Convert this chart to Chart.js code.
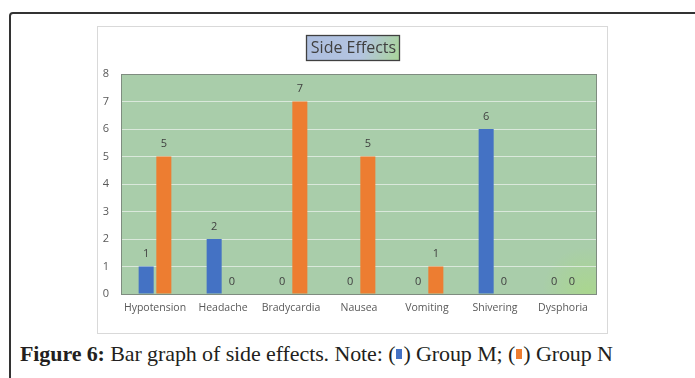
<!DOCTYPE html>
<html>
<head>
<meta charset="utf-8">
<script src="https://cdn.jsdelivr.net/npm/chart.js@4/dist/chart.umd.min.js"></script>
<style>
  html, body { margin:0; padding:0; width:695px; height:378px; overflow:hidden; background:#fff; }
  #frame { position:absolute; left:9px; top:12px; width:720px; height:400px; border:2px solid #333; border-top-left-radius:4px; box-sizing:border-box; }
  #box { position:absolute; left:97px; top:26px; width:511px; height:308px; border:1px solid #d9d9d9; box-sizing:border-box; background:#fff; }
  #wrap { position:absolute; left:97px; top:26px; width:511px; height:308px; }
  #caption { position:absolute; left:20px; top:341px; font-family:"Liberation Serif", serif; font-size:22px; color:#231f20; white-space:nowrap; letter-spacing:-0.1px; }
  #caption b { font-weight:bold; }
  .sq { display:inline-block; width:6px; height:10px; vertical-align:2px; margin:0 1px; }
</style>
</head>
<body>
<div id="frame"></div>
<div id="box"></div>
<div id="wrap"><canvas id="c" width="511" height="308"></canvas></div>
<div id="caption"><b>Figure 6:</b> Bar graph of side effects. Note: (<span class="sq" style="background:#4472c4"></span>) Group M; (<span class="sq" style="background:#ed7d31"></span>) Group N</div>
<script>
const chartTitle = "Side Effects";
const categories = ["Hypotension", "Headache", "Bradycardia", "Nausea", "Vomiting", "Shivering", "Dysphoria"];
const groupM = [1, 2, 0, 0, 0, 6, 0];
const groupN = [5, 0, 7, 5, 1, 0, 0];
const seriesNames = ["Group M", "Group N"];
const yTicks = [0, 1, 2, 3, 4, 5, 6, 7, 8];

const FONT = '"Open Sans", "Liberation Sans", sans-serif';

const bgPlugin = {
  id: 'bg',
  beforeDraw(chart) {
    const { ctx, chartArea: a } = chart;
    ctx.save();
    ctx.fillStyle = '#a9cdaa';
    ctx.fillRect(a.left, a.top, a.right - a.left, a.bottom - a.top);
    const g = ctx.createRadialGradient(a.right - 10, a.bottom - 2, 0, a.right - 10, a.bottom - 2, 45);
    g.addColorStop(0, 'rgba(170,215,140,0.9)');
    g.addColorStop(1, 'rgba(170,215,140,0)');
    ctx.fillStyle = g;
    ctx.fillRect(a.left, a.top, a.right - a.left, a.bottom - a.top);
    ctx.restore();
  },
  afterDatasetsDraw(chart) {
    const { ctx, chartArea: a } = chart;
    ctx.save();
    ctx.strokeStyle = '#7f8c80';
    ctx.lineWidth = 1;
    ctx.strokeRect(Math.round(a.left) + 0.5, Math.round(a.top) + 0.5, Math.round(a.right - a.left) - 1, Math.round(a.bottom - a.top));
    ctx.font = '11px ' + FONT;
    ctx.fillStyle = '#404040';
    ctx.textAlign = 'center';
    ctx.textBaseline = 'bottom';
    chart.data.datasets.forEach((ds, i) => {
      chart.getDatasetMeta(i).data.forEach((bar, j) => {
        ctx.fillText(String(ds.data[j]), bar.x, bar.y - 7);
      });
    });
    const tx = 209, ty = 9, tw = 93, th = 25;
    const tg = ctx.createLinearGradient(tx, ty, tx + tw, ty + th);
    tg.addColorStop(0, '#aebfe0');
    tg.addColorStop(0.6, '#b3c4e0');
    tg.addColorStop(1, '#a9d49a');
    ctx.fillStyle = tg;
    ctx.fillRect(tx, ty, tw, th);
    ctx.strokeStyle = '#404040';
    ctx.lineWidth = 1.3;
    ctx.strokeRect(tx + 0.5, ty + 0.5, tw, th);
    ctx.fillStyle = '#404040';
    ctx.font = '16px ' + FONT;
    ctx.textBaseline = 'middle';
    ctx.fillText(chartTitle, tx + tw / 2 + 1, ty + th / 2 + 1);
    ctx.restore();
  }
};

new Chart(document.getElementById('c'), {
  type: 'bar',
  data: {
    labels: categories,
    datasets: [
      { label: seriesNames[0], data: groupM, backgroundColor: '#4472c4', borderWidth: 0, barPercentage: 0.85, categoryPercentage: 0.52 },
      { label: seriesNames[1], data: groupN, backgroundColor: '#ed7d31', borderWidth: 0, barPercentage: 0.85, categoryPercentage: 0.52 }
    ]
  },
  plugins: [bgPlugin],
  options: {
    responsive: false,
    animation: false,
    devicePixelRatio: 1,
    layout: { padding: { left: 0, right: 11, top: 48, bottom: 0 } },
    plugins: { legend: { display: false }, tooltip: { enabled: false }, title: { display: false } },
    scales: {
      x: {
        grid: { display: false, drawTicks: false },
        border: { display: false },
        ticks: { color: '#595959', font: { size: 10.5, family: FONT }, padding: 8, maxRotation: 0, autoSkip: false },
        afterFit(s) { s.height = 40; }
      },
      y: {
        min: 0, max: 8,
        afterBuildTicks(s) { s.ticks = yTicks.map(v => ({ value: v })); },
        grid: { color: 'rgba(235,240,235,0.75)', drawTicks: false, lineWidth: 1 },
        border: { display: false },
        ticks: { color: '#595959', font: { size: 11, family: FONT }, padding: 12 },
        afterFit(s) { s.width = 24; }
      }
    }
  }
});
</script>
</body>
</html>
